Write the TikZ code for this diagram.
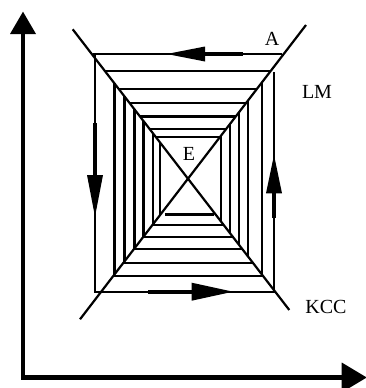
\documentclass[tikz,border=0pt]{standalone}
\usepackage{fontspec}
\setmainfont{Liberation Serif}
\begin{document}
\begin{tikzpicture}[x=1pt,y=-1pt,
  spiral/.style={line width=2.2pt},
  eqline/.style={line width=2.2pt},
  axis/.style={line width=4.8pt},
  fatshaft/.style={line width=3.6pt},
  lbl/.style={anchor=base, inner sep=0pt, font=\fontsize{20}{24}\selectfont}]
\useasboundingbox (0,0) rectangle (366,388);
% axes
\coordinate (ytip) at (23,11.7);
\coordinate (xtip) at (366.7,377.5);
\coordinate (origin) at (23,377.5);
\draw[axis] (23,33) -- (origin) -- (342,377.5);
\fill (ytip) -- (10,34) -- (36,34) -- cycle;
\fill (xtip) -- (341.7,362.5) -- (341.7,392.5) -- cycle;
% LM and KCC
\coordinate (lmA) at (80,319.3);
\coordinate (lmB) at (306,25);
\coordinate (kA) at (72.7,29.3);
\coordinate (kB) at (289.3,310);
\draw[eqline] (lmA) -- (lmB);
\draw[eqline] (kA) -- (kB);
% outer loop
\draw[spiral] (282,54) -- (93,54);
\draw[spiral] (95,54) -- (95,291.7) -- (274,291.7) -- (274,72);
% top and bottom horizontals (between the two lines)
\foreach \y [evaluate=\y as \xk using 72.7+0.77164*(\y-29.3),
             evaluate=\y as \xl using 80-0.76793*(\y-319.3)]
  in {71,89.3,103,116.5,129,137,276,263,249,236.7,225}
  \draw[spiral] (\xk,\y) -- (\xl,\y);
\draw[spiral] (165,214.5) -- (214,214.5);
% left and right verticals (between the two lines)
\foreach \x [evaluate=\x as \yk using 29.3+(\x-72.7)/0.77164,
             evaluate=\x as \yl using 319.3-(\x-80)/0.76793]
  in {114.5,124.5,134.5,143.5,153.3,160,261.7,248.3,239,230,221}
  \draw[spiral] (\x,\yk) -- (\x,\yl);
% direction arrows
\draw[fatshaft] (203,54) -- (243,54);
\fill (166.7,54) -- (205,46.5) -- (205,61.5) -- cycle;
\draw[fatshaft] (148,291.7) -- (194,291.7);
\fill (233,291.7) -- (191.7,282.7) -- (191.7,300.7) -- cycle;
\draw[fatshaft] (95,123) -- (95,177);
\fill (95,216.7) -- (87,175) -- (103,175) -- cycle;
\draw[fatshaft] (274,218) -- (274,191);
\fill (274,155) -- (266,193.3) -- (282,193.3) -- cycle;
% labels
\node[lbl] (A) at (272,45) {A};
\node[lbl] (LM) at (317,98.3) {LM};
\node[lbl] (KCC) at (326,313.3) {KCC};
\node[lbl] (E) at (189,160.7) {E};
\end{tikzpicture}
\end{document}
